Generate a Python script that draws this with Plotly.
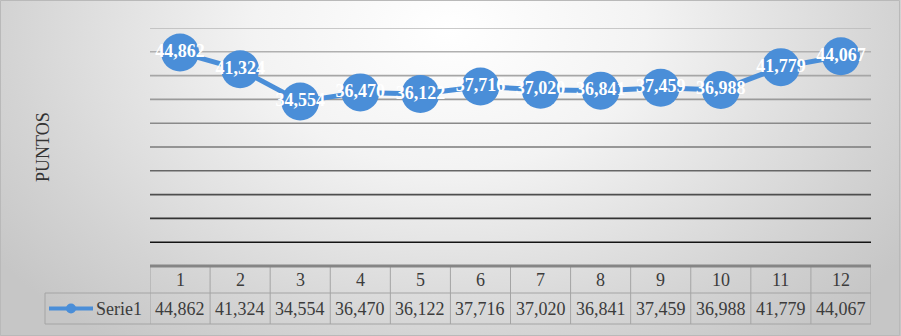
import base64
import plotly.graph_objects as go

# ---- data ----
months = [1, 2, 3, 4, 5, 6, 7, 8, 9, 10, 11, 12]
serie1 = [44.862, 41.324, 34.554, 36.470, 36.122, 37.716, 37.020, 36.841, 37.459, 36.988, 41.779, 44.067]
series_name = "Serie1"
y_title = "PUNTOS"
grid_values = [5, 10, 15, 20, 25, 30, 35, 40, 45, 50]


def fmt(v):
    return f"{v:.3f}".replace(".", ",")


labels = [fmt(v) for v in serie1]

W, H = 901, 336
ML, MR, MT, MB = 150, 30, 28, 70
PH = H - MT - MB
PW = W - ML - MR
BLUE = "#4a8ed8"
FONT = "Liberation Serif"
TXT = "#3c3c3c"


def py(p):  # pixel y -> paper y
    return (H - MB - p) / PH


def px(p):  # pixel x -> paper x
    return (p - ML) / PW


fig = go.Figure()
fig.add_trace(go.Scatter(
    x=months, y=serie1, mode="lines+markers+text",
    line=dict(color=BLUE, width=5),
    marker=dict(size=38, color=BLUE),
    text=labels, textposition="middle center",
    textfont=dict(family=FONT, size=18, color="white", weight="bold"),
    cliponaxis=False, showlegend=False, hoverinfo="skip",
))

# background gradient
svg = (
    f'<svg xmlns="http://www.w3.org/2000/svg" width="{W}" height="{H}">'
    '<defs><radialGradient id="g" gradientUnits="userSpaceOnUse" cx="450" cy="30" r="560" '
    'gradientTransform="translate(450,30) scale(1,0.7) translate(-450,-30)">'
    '<stop offset="0" stop-color="#ffffff"/><stop offset="0.35" stop-color="#f3f3f3"/>'
    '<stop offset="0.8" stop-color="#d3d3d3"/><stop offset="1" stop-color="#c6c6c6"/>'
    '</radialGradient></defs>'
    f'<rect width="{W}" height="{H}" fill="url(#g)"/></svg>'
)
src = "data:image/svg+xml;base64," + base64.b64encode(svg.encode()).decode()

shapes = []
grid_colors = ["#141414", "#333333", "#4e4e4e", "#666666", "#7a7a7a",
               "#8a8a8a", "#9a9a9a", "#a6a6a6", "#b0b0b0", "#b8b8b8"]
for v, c in zip(grid_values, grid_colors):
    shapes.append(dict(type="line", xref="paper", yref="y", x0=0, x1=1, y0=v, y1=v,
                       line=dict(color=c, width=1.6), layer="below"))

# table
row1_bot = py(293)
row2_bot = py(324)
leg_left = px(45)
bc = "#a4a4a4"
for k in range(13):
    xk = k + 0.5
    shapes.append(dict(type="line", xref="x", yref="paper", x0=xk, x1=xk, y0=0, y1=row2_bot,
                       line=dict(color=bc, width=1)))
shapes.append(dict(type="line", xref="paper", yref="paper", x0=leg_left, x1=1, y0=row1_bot, y1=row1_bot,
                   line=dict(color=bc, width=1)))
shapes.append(dict(type="line", xref="paper", yref="paper", x0=leg_left, x1=1, y0=row2_bot, y1=row2_bot,
                   line=dict(color=bc, width=1)))
shapes.append(dict(type="line", xref="paper", yref="paper", x0=leg_left, x1=leg_left, y0=row1_bot, y1=row2_bot,
                   line=dict(color=bc, width=1)))
shapes.append(dict(type="line", xref="paper", yref="paper", x0=0, x1=1, y0=0, y1=0,
                   line=dict(color="#858585", width=3)))
# legend icon
ly = py(308.5)
shapes.append(dict(type="line", xref="paper", yref="paper", x0=px(49), x1=px(93), y0=ly, y1=ly,
                   line=dict(color=BLUE, width=4)))
shapes.append(dict(type="circle", xref="paper", yref="paper", x0=px(66), x1=px(76),
                   y0=py(313.5), y1=py(303.5), fillcolor=BLUE, line=dict(color=BLUE, width=0)))
# outer border
shapes.append(dict(type="rect", xref="paper", yref="paper", x0=px(0.5), x1=px(W - 1.5),
                   y0=py(H - 0.5), y1=py(0.5), line=dict(color="#b9b9b9", width=1)))

annotations = []
for m in months:
    annotations.append(dict(x=m, y=py(280), xref="x", yref="paper", text=str(m), showarrow=False,
                            font=dict(family=FONT, size=18, color=TXT), xanchor="center", yanchor="middle"))
for m, t in zip(months, labels):
    annotations.append(dict(x=m, y=py(309), xref="x", yref="paper", text=t, showarrow=False,
                            font=dict(family=FONT, size=18, color=TXT), xanchor="center", yanchor="middle"))
annotations.append(dict(x=px(94), y=py(309), xref="paper", yref="paper", text=series_name, showarrow=False,
                        font=dict(family=FONT, size=18, color=TXT), xanchor="left", yanchor="middle"))
annotations.append(dict(x=px(43), y=0.5, xref="paper", yref="paper", text=y_title, showarrow=False,
                        textangle=-90, font=dict(family=FONT, size=18, color="#333333"),
                        xanchor="center", yanchor="middle"))

fig.update_layout(
    width=W, height=H,
    margin=dict(l=ML, r=MR, t=MT, b=MB, pad=0),
    paper_bgcolor="#d8d8d8", plot_bgcolor="rgba(0,0,0,0)",
    font=dict(family=FONT),
    xaxis=dict(range=[0.5, 12.5], visible=False, fixedrange=True),
    yaxis=dict(range=[0, 50], showticklabels=False, showgrid=False, zeroline=False,
               ticks="", showline=False, fixedrange=True),
    shapes=shapes, annotations=annotations,
    images=[dict(source=src, xref="paper", yref="paper", x=px(0), y=py(0),
                 sizex=W / PW, sizey=H / PH, xanchor="left", yanchor="top",
                 sizing="stretch", layer="below")],
    showlegend=False,
)

fig.write_html("out.html", config={"displayModeBar": False},
               post_script="document.body.style.margin='0';document.body.style.padding='0';")
